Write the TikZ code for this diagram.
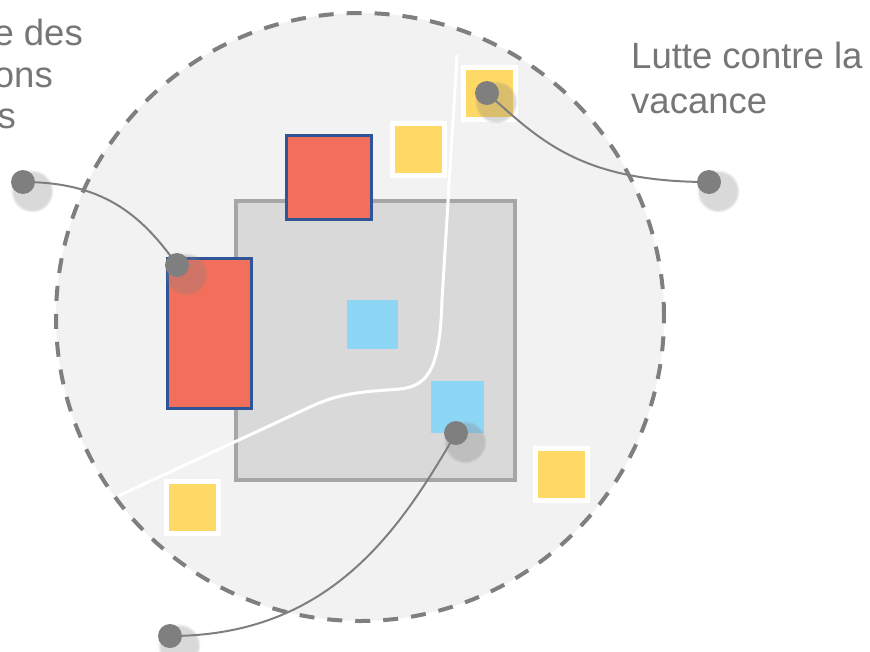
\documentclass[tikz,border=0pt]{standalone}
\usepackage{fontspec}
\setmainfont{Liberation Sans}
\usetikzlibrary{shadows}
\definecolor{circfill}{HTML}{F2F2F2}
\definecolor{dashgray}{HTML}{7F7F7F}
\definecolor{sqfill}{HTML}{D9D9D9}
\definecolor{sqborder}{HTML}{A6A6A6}
\definecolor{redfill}{HTML}{F2705B}
\definecolor{blueborder}{HTML}{2F5597}
\definecolor{lightblue}{HTML}{8ED6F6}
\definecolor{yellowfill}{HTML}{FFD966}
\definecolor{txtgray}{HTML}{767676}
\definecolor{dotgray}{HTML}{7F7F7F}
\tikzset{
  redbox/.style={draw=blueborder, fill=redfill, line width=3pt, inner sep=0pt},
  bluebox/.style={fill=lightblue, draw=none, inner sep=0pt},
  yellowbox/.style={fill=yellowfill, draw=white, line width=5pt, inner sep=0pt, minimum size=52pt},
  dotnode/.style={circle, fill=dotgray, inner sep=0pt, minimum size=24pt,
    circular drop shadow={shadow xshift=5pt, shadow yshift=-5pt, shadow scale=1.8, opacity=0.3}},
  linkline/.style={draw=dotgray, line width=2pt},
  labeltext/.style={text=txtgray, inner sep=0pt, font=\fontsize{36.5}{44}\selectfont}
}
\begin{document}
\begin{tikzpicture}[x=1pt, y=-1pt]
\useasboundingbox (0,0) rectangle (870,651);
\clip (0,0) rectangle (870,651);
% big dashed circle
\node (circ) [circle, minimum size=608pt, inner sep=0pt, fill=circfill, draw=dashgray,
  line width=4pt, dash pattern=on 15pt off 13pt] at (360,317) {};
% central gray square
\node (core) [draw=sqborder, fill=sqfill, line width=4pt, inner sep=0pt,
  minimum width=279.5pt, minimum height=278.5pt] at (375.25,340.25) {};
% white curve
\draw[white, line width=3pt] (118,496) -- (310,407) .. controls (340,393) and (360,392) .. (400,389)
  .. controls (430,386) and (440,365) .. (442,300) -- (457,55);
% red boxes
\node (redtall) [redbox, minimum width=84pt, minimum height=150pt] at (209.5,333.5) {};
\node (redsq) [redbox, minimum width=85pt, minimum height=84pt] at (329,177.5) {};
% blue squares
\node (blue1) [bluebox, minimum width=51pt, minimum height=49pt] at (372.5,324.5) {};
\node (blue2) [bluebox, minimum width=53pt, minimum height=52pt] at (457.5,407) {};
% yellow squares
\node (y1) [yellowbox] at (418.5,149) {};
\node (y2) [yellowbox] at (489.5,93) {};
\node (y3) [yellowbox] at (561.5,474) {};
\node (y4) [yellowbox] at (192.5,507) {};
% dots
\coordinate (pL) at (23,182);
\coordinate (p1) at (177,265);
\coordinate (p2) at (487,93);
\coordinate (pR) at (709,182);
\coordinate (p3) at (456,433);
\coordinate (pB) at (170,636);
% connectors
\draw[linkline] (pL) .. controls (100,182) and (140,212) .. (p1);
\draw[linkline] (p2) .. controls (540,140) and (580,182) .. (pR);
\draw[linkline] (p3) .. controls (400,530) and (330,636) .. (pB);
\node (dL) [dotnode] at (pL) {};
\node (d1) [dotnode] at (p1) {};
\node (d2) [dotnode] at (p2) {};
\node (dR) [dotnode] at (pR) {};
\node (d3) [dotnode] at (p3) {};
\node (dB) [dotnode] at (pB) {};
% texts
\node (tl1) [labeltext, anchor=base east] at (83,45) {e des};
\node (tl2) [labeltext, anchor=base east] at (53,87) {ons};
\node (tl3) [labeltext, anchor=base east] at (16,128) {s};
\node (tr1) [labeltext, anchor=base west] at (631,68) {Lutte contre la};
\node (tr2) [labeltext, anchor=base west] at (631,113) {vacance};
\end{tikzpicture}
\end{document}
